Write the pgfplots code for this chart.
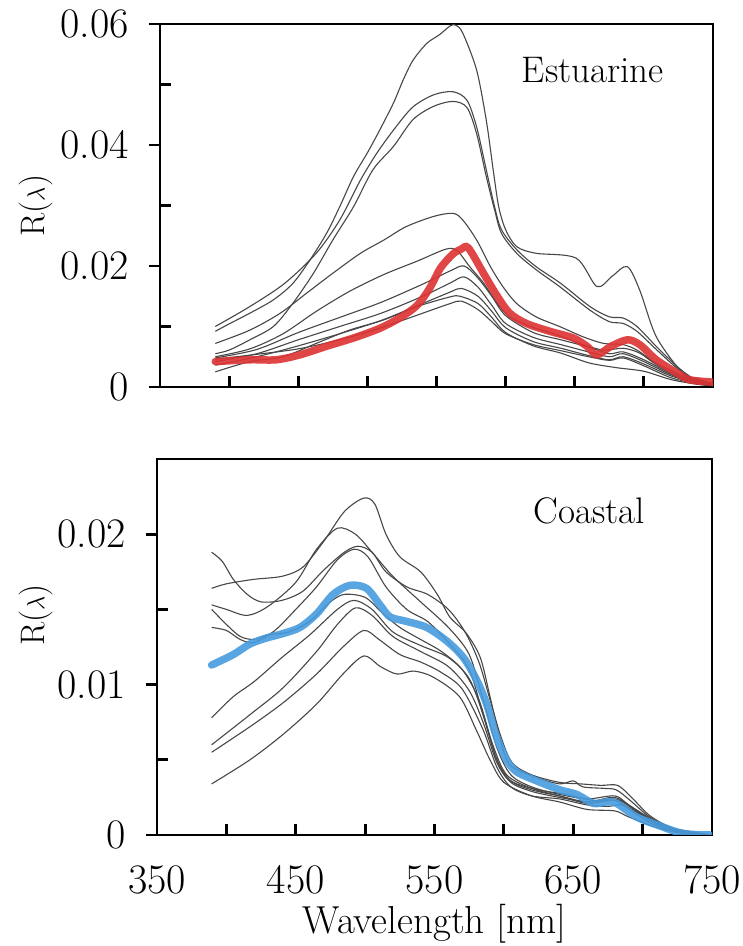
\documentclass[border=0pt]{standalone}
\usepackage{pgfplots}
\pgfplotsset{compat=1.18}
\definecolor{redc}{RGB}{222,50,50}
\definecolor{bluec}{RGB}{70,155,222}
\begin{document}
\begin{tikzpicture}
\useasboundingbox (0,0) rectangle (743pt,946pt);
\pgfplotsset{
 every axis/.append style={
  scale only axis,
  xmin=350, xmax=750,
  axis line style={line width=2.8pt},
  tick style={black, line width=2.8pt},
  xtick={350,400,...,750},
  xtick align=inside,
  ytick align=outside,
  xtick pos=bottom, ytick pos=left,
  major tick length=11pt, minor tick length=11pt,
  minor tick style={xshift=11pt},
  scaled y ticks=false,
  tick label style={font=\fontsize{42}{44}\selectfont},
  yticklabel style={inner sep=0pt, xshift=-20pt},
  ylabel={R($\lambda$)},
  ylabel style={font=\fontsize{34}{38}\selectfont, anchor=center},
 },
 gl/.style={black!72, line width=1.1pt, smooth, tension=0.5, no marks},
}
% ---------------- Top panel: Estuarine ----------------
\begin{axis}[
  at={(160pt,559pt)}, anchor=south west,
  width=553pt, height=363pt,
  ymin=0, ymax=0.06,
  ytick={0,0.02,0.04,0.06}, yticklabels={0,0.02,0.04,0.06},
  minor ytick={0.01,0.03,0.05},
  xticklabels={},
  ylabel style={at={(axis description cs:-0.224,0.5)}},
]
% A
\addplot[gl] coordinates {(390,0.0092)(400.6,0.0105)(415,0.0122)(432,0.0144)(446,0.0171)(458.5,0.0210)(470.5,0.0254)(480,0.0298)(490,0.0348)(500,0.0387)(509,0.0425)(519,0.0470)(526,0.0508)(533,0.0540)(543,0.0568)(552,0.0582)(560,0.0597)(564,0.0598)(569,0.0585)(579,0.0524)(586,0.0441)(591,0.0359)(595,0.0298)(600,0.0260)(608,0.0232)(622,0.0221)(651,0.0213)(666,0.0166)(677,0.0183)(688,0.0199)(697,0.0160)(709,0.0083)(728,0.0023)(738,0.0014)(750,0.0005)};
% B
\addplot[gl] coordinates {(390,0.0100)(415,0.0133)(440,0.0171)(463,0.0221)(480,0.0276)(495,0.0342)(507,0.0387)(520,0.0428)(533,0.0463)(548,0.0483)(562,0.0488)(572,0.0474)(579,0.0430)(586,0.0359)(592,0.0298)(597,0.0260)(608,0.0227)(622,0.0199)(640,0.0171)(661,0.0133)(675,0.0116)(685,0.0114)(695,0.0100)(709,0.0067)(724,0.0034)(736,0.0014)(750,0.0005)};
% C
\addplot[gl] coordinates {(390,0.0055)(400,0.0061)(415,0.0078)(432,0.0100)(446,0.0138)(461,0.0188)(475,0.0243)(490,0.0298)(504,0.0359)(519,0.0398)(533,0.0442)(548,0.0464)(562,0.0472)(572,0.0462)(579,0.0419)(586,0.0348)(592,0.0293)(597,0.0254)(608,0.0221)(622,0.0194)(639,0.0166)(661,0.0127)(675,0.0108)(685,0.0105)(695,0.0092)(709,0.0062)(724,0.0031)(736,0.0013)(750,0.0004)};
% D
\addplot[gl] coordinates {(390,0.0072)(415,0.0094)(437,0.0122)(456,0.0155)(475,0.0188)(495,0.0221)(512,0.0243)(528,0.0265)(548,0.0282)(562,0.0287)(569,0.0276)(579,0.0243)(589,0.0199)(598,0.0166)(608,0.0138)(622,0.0116)(639,0.0100)(656,0.0083)(671,0.0072)(685,0.0070)(695,0.0061)(709,0.0039)(724,0.0023)(738,0.0009)(750,0.0004)};
% E
\addplot[gl] coordinates {(390,0.0050)(415,0.0063)(439,0.0088)(463,0.0125)(487,0.0158)(512,0.0186)(536,0.0208)(557,0.0228)(565,0.0225)(574,0.0199)(584,0.0172)(594,0.0138)(603,0.0116)(618,0.0100)(637,0.0086)(656,0.0070)(671,0.0061)(685,0.0064)(697,0.0056)(709,0.0037)(726,0.0018)(743,0.0009)(750,0.0005)};
% F
\addplot[gl] coordinates {(390,0.0048)(420,0.0062)(450,0.0090)(480,0.0115)(510,0.0140)(540,0.0170)(560,0.0192)(570,0.0200)(580,0.0180)(590,0.0150)(600,0.0118)(620,0.0090)(640,0.0078)(660,0.0066)(675,0.0055)(685,0.0058)(700,0.0045)(720,0.0022)(740,0.0008)(750,0.0004)};
% G
\addplot[gl] coordinates {(390,0.0042)(420,0.0055)(450,0.0078)(480,0.0100)(510,0.0122)(540,0.0150)(560,0.0172)(570,0.0182)(580,0.0165)(590,0.0135)(600,0.0105)(620,0.0082)(640,0.0070)(660,0.0058)(675,0.0050)(685,0.0055)(700,0.0042)(720,0.0020)(740,0.0007)(750,0.0003)};
% H
\addplot[gl] coordinates {(390,0.0036)(420,0.0050)(450,0.0068)(480,0.0088)(510,0.0110)(540,0.0138)(560,0.0157)(568,0.0163)(580,0.0150)(590,0.0125)(600,0.0098)(620,0.0075)(640,0.0064)(660,0.0052)(675,0.0045)(685,0.0050)(700,0.0038)(720,0.0018)(740,0.0006)(750,0.0003)};
% I
\addplot[gl] coordinates {(390,0.0025)(415,0.0042)(439,0.0050)(463,0.0072)(487,0.0094)(512,0.0111)(536,0.0133)(560,0.0149)(567,0.0150)(580,0.0138)(590,0.0115)(600,0.0090)(620,0.0068)(640,0.0056)(660,0.0040)(680,0.0032)(700,0.0026)(720,0.0012)(740,0.0004)(750,0.0002)};
% J
\addplot[gl] coordinates {(390,0.0046)(420,0.0054)(450,0.0063)(480,0.0078)(510,0.0098)(540,0.0122)(560,0.0138)(568,0.0142)(580,0.0128)(590,0.0108)(600,0.0088)(620,0.0070)(640,0.0060)(660,0.0050)(675,0.0044)(685,0.0048)(700,0.0035)(720,0.0015)(740,0.0005)(750,0.0002)};
% mean (red)
\addplot[redc, opacity=0.9, line width=7.5pt, smooth, tension=0.5, no marks, line cap=round] coordinates {(390,0.0042)(415,0.0045)(434,0.0045)(451,0.0053)(470,0.0067)(490,0.0081)(509,0.0097)(524,0.0115)(536,0.0135)(545,0.0163)(553,0.0197)(562,0.0220)(568,0.0228)(573,0.0230)(584,0.0188)(594,0.0150)(603,0.0122)(615,0.0105)(632,0.0092)(649,0.0081)(659,0.0067)(666,0.0053)(676,0.0067)(688,0.0078)(697,0.0070)(709,0.0045)(724,0.0023)(733,0.0012)(750,0.0008)};
\node[anchor=base, font=\fontsize{37}{40}\selectfont] at (axis cs:663,0.0504) {Estuarine};
\end{axis}
% ---------------- Bottom panel: Coastal ----------------
\begin{axis}[
  at={(157pt,111pt)}, anchor=south west,
  width=555pt, height=376pt,
  ymin=0, ymax=0.025,
  ytick={0,0.01,0.02}, yticklabels={0,0.01,0.02},
  minor ytick={0.005,0.015},
  xticklabels={350,,450,,550,,650,,750},
  xticklabel style={anchor=base, inner sep=0pt, yshift=-59pt},
  ylabel style={at={(axis description cs:-0.218,0.585)}},
  xlabel={Wavelength [nm]},
  xlabel style={at={(axis description cs:0.5,-0.263)}, anchor=base, inner sep=0pt, font=\fontsize{39}{42}\selectfont},
]
% T1
\addplot[gl] coordinates {(389.4,0.0164)(400,0.0167)(420,0.0170)(440,0.0172)(455,0.0178)(470,0.0195)(485,0.0215)(499,0.0224)(507,0.0220)(515,0.0200)(525,0.0185)(540,0.0175)(552,0.0160)(561,0.0145)(573,0.0134)(583,0.0118)(590,0.0092)(597,0.0065)(604,0.0047)(621,0.0039)(640,0.0034)(650,0.0036)(657,0.0032)(672,0.0031)(681,0.0030)(691,0.0023)(705,0.0012)(720,0.0005)(730,0.0003)(750,0.0000)};
% U1
\addplot[gl] coordinates {(389.4,0.0188)(397,0.0182)(405,0.0170)(415,0.0160)(425,0.0155)(440,0.0156)(455,0.0162)(470,0.0176)(485,0.0188)(495,0.0192)(505,0.0188)(515,0.0175)(530,0.0165)(545,0.0160)(560,0.0150)(572,0.0135)(582,0.0115)(590,0.0090)(598,0.0065)(606,0.0048)(620,0.0040)(640,0.0035)(655,0.0034)(670,0.0033)(682,0.0033)(692,0.0025)(705,0.0013)(720,0.0005)(735,0.0001)(750,0.0000)};
% U2
\addplot[gl] coordinates {(389.4,0.0153)(400,0.0150)(415,0.0146)(430,0.0152)(450,0.0168)(465,0.0190)(480,0.0204)(493,0.0200)(505,0.0188)(520,0.0172)(540,0.0155)(560,0.0138)(575,0.0120)(585,0.0090)(595,0.0058)(605,0.0040)(620,0.0032)(640,0.0027)(660,0.0024)(680,0.0026)(690,0.0020)(710,0.0008)(730,0.0002)(750,0.0000)};
% U3
\addplot[gl] coordinates {(389.4,0.0138)(400,0.0136)(410,0.0130)(420,0.0128)(435,0.0136)(450,0.0150)(465,0.0165)(480,0.0183)(492,0.0190)(502,0.0185)(515,0.0165)(530,0.0150)(545,0.0142)(560,0.0128)(575,0.0110)(585,0.0080)(595,0.0050)(605,0.0036)(620,0.0030)(640,0.0026)(660,0.0022)(680,0.0024)(692,0.0018)(710,0.0007)(730,0.0001)(750,0.0000)};
% U4
\addplot[gl] coordinates {(389.4,0.0150)(400,0.0140)(410,0.0132)(420,0.0130)(430,0.0133)(445,0.0135)(460,0.0142)(475,0.0155)(485,0.0160)(500,0.0158)(512,0.0148)(525,0.0138)(540,0.0130)(555,0.0122)(570,0.0110)(582,0.0090)(592,0.0060)(602,0.0040)(620,0.0031)(640,0.0026)(660,0.0021)(680,0.0023)(692,0.0016)(710,0.0006)(730,0.0001)(750,0.0000)};
% L4
\addplot[gl] coordinates {(389.4,0.0078)(405,0.0092)(420,0.0102)(440,0.0118)(460,0.0133)(480,0.0150)(492,0.0156)(505,0.0150)(520,0.0135)(540,0.0126)(560,0.0118)(575,0.0104)(585,0.0080)(595,0.0050)(605,0.0036)(625,0.0030)(645,0.0027)(665,0.0023)(680,0.0025)(695,0.0017)(715,0.0006)(735,0.0001)(750,0.0000)};
% L3
\addplot[gl] coordinates {(389.4,0.0060)(417,0.0080)(441,0.0098)(465,0.0122)(480,0.0140)(493,0.0151)(505,0.0146)(520,0.0132)(540,0.0122)(560,0.0112)(575,0.0096)(585,0.0075)(595,0.0048)(605,0.0035)(620,0.0029)(640,0.0025)(660,0.0022)(680,0.0023)(690,0.0018)(710,0.0008)(730,0.0002)(750,0.0000)};
% L2
\addplot[gl] coordinates {(389.4,0.0055)(417,0.0072)(441,0.0088)(465,0.0107)(484,0.0125)(499,0.0136)(510,0.0130)(525,0.0120)(540,0.0115)(555,0.0108)(570,0.0097)(585,0.0070)(595,0.0045)(605,0.0032)(620,0.0026)(640,0.0024)(660,0.0020)(675,0.0019)(685,0.0020)(700,0.0013)(720,0.0004)(740,0.0001)(750,0.0000)};
% L1
\addplot[gl] coordinates {(389.4,0.0034)(417,0.0050)(441,0.0067)(465,0.0087)(484,0.0107)(499,0.0119)(511,0.0112)(523,0.0107)(535,0.0109)(549,0.0105)(568,0.0092)(580,0.0070)(590,0.0050)(600,0.0035)(620,0.0026)(640,0.0022)(660,0.0017)(680,0.0016)(690,0.0012)(710,0.0005)(730,0.0001)(750,0.0000)};
% mean (blue)
\addplot[bluec, opacity=0.9, line width=7.5pt, smooth, tension=0.5, no marks, line cap=round] coordinates {(389.4,0.0113)(405,0.0120)(417,0.0127)(429,0.0131)(441,0.0134)(453,0.0138)(465,0.0147)(477,0.0160)(489,0.0166)(501,0.0164)(510.7,0.0153)(518,0.0145)(530,0.0142)(544.4,0.0138)(558.8,0.0129)(570.8,0.0118)(580.4,0.0103)(587.6,0.0087)(594.8,0.0065)(602,0.0050)(609.2,0.0042)(623.6,0.0036)(640.4,0.0030)(652.5,0.0027)(664.5,0.0021)(674.1,0.0022)(681.3,0.0021)(695.7,0.0012)(712.5,0.0006)(729.3,0.0001)(748.6,0.0000)};
\node[anchor=base, font=\fontsize{37}{40}\selectfont] at (axis cs:661.7,0.0207) {Coastal};
\end{axis}
\end{tikzpicture}
\end{document}
